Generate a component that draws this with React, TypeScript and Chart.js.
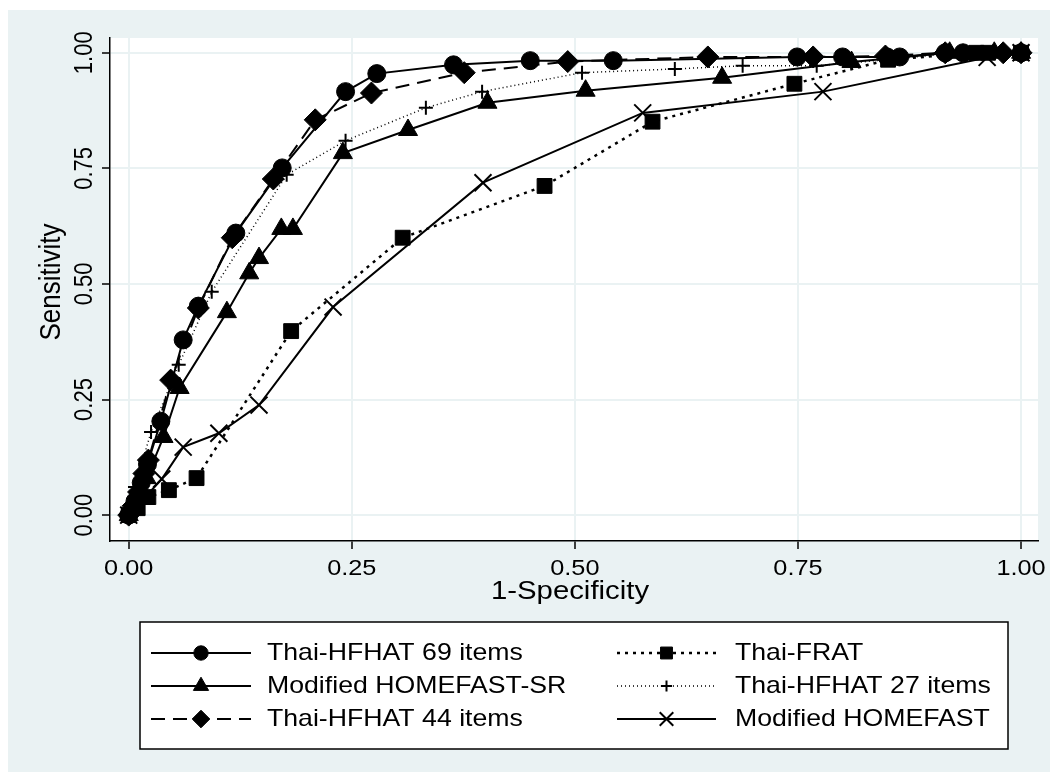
import { useEffect, useRef } from "react";
import { Chart, registerables } from "chart.js";
import { drawPoint } from "chart.js/helpers";

Chart.register(...registerables);

// ---------- data ----------
const xTicks = [0, 0.25, 0.5, 0.75, 1];
const yTicks = [0, 0.25, 0.5, 0.75, 1];

const hfhat69X = [0, 0.007, 0.014, 0.021, 0.036, 0.061, 0.078, 0.12, 0.172, 0.243, 0.278, 0.364, 0.45, 0.543, 0.749, 0.8, 0.85, 0.864, 0.915, 0.935, 1];
const hfhat69Y = [0, 0.03, 0.07, 0.11, 0.203, 0.379, 0.452, 0.61, 0.751, 0.916, 0.955, 0.974, 0.983, 0.983, 0.991, 0.991, 0.991, 0.991, 1, 1, 1];

const fratX = [0, 0.01, 0.022, 0.045, 0.076, 0.182, 0.307, 0.466, 0.587, 0.746, 0.851, 0.95, 0.963, 1];
const fratY = [0, 0.015, 0.039, 0.054, 0.08, 0.398, 0.6, 0.712, 0.851, 0.933, 0.985, 1, 1, 1];

const homefastSrX = [0, 0.006, 0.012, 0.02, 0.039, 0.057, 0.11, 0.135, 0.146, 0.171, 0.184, 0.24, 0.313, 0.402, 0.512, 0.665, 0.81, 0.92, 0.97, 1];
const homefastSrY = [0, 0.02, 0.045, 0.08, 0.169, 0.275, 0.439, 0.523, 0.556, 0.619, 0.619, 0.783, 0.833, 0.892, 0.918, 0.946, 0.98, 1, 1, 1];

const hfhat27X = [0, 0.007, 0.025, 0.056, 0.093, 0.177, 0.243, 0.333, 0.396, 0.508, 0.612, 0.688, 0.771, 0.85, 0.93, 1];
const hfhat27Y = [0, 0.061, 0.18, 0.325, 0.483, 0.736, 0.81, 0.881, 0.916, 0.957, 0.965, 0.972, 0.972, 0.985, 1, 1];

const hfhat44X = [0, 0.005, 0.011, 0.017, 0.022, 0.047, 0.078, 0.116, 0.162, 0.209, 0.272, 0.376, 0.492, 0.649, 0.767, 0.848, 0.915, 0.98, 1];
const hfhat44Y = [0, 0.02, 0.05, 0.09, 0.119, 0.292, 0.448, 0.6, 0.727, 0.855, 0.913, 0.957, 0.981, 0.991, 0.991, 0.993, 1, 1, 1];

const homefastX = [0, 0.037, 0.061, 0.101, 0.146, 0.229, 0.397, 0.576, 0.778, 0.962, 1];
const homefastY = [0, 0.078, 0.147, 0.177, 0.238, 0.45, 0.719, 0.87, 0.916, 0.99, 1];

const seriesNames = [
  "Thai-HFHAT 69 items",
  "Thai-FRAT",
  "Modified HOMEFAST-SR",
  "Thai-HFHAT 27 items",
  "Thai-HFHAT 44 items",
  "Modified HOMEFAST",
];

const xTitle = "1-Specificity";
const yTitle = "Sensitivity";

// ---------- styles ----------
const FONT = '"Liberation Sans", Arial, sans-serif';
const BG = "#EAF2F3";
const SX = 1.15; // horizontal stretch of all text

type Style = { pointStyle: string; radius: number; dash: number[]; width: number; pointBorder: number };
const styles: Style[] = [
  { pointStyle: "circle", radius: 9, dash: [], width: 2, pointBorder: 1 },
  { pointStyle: "rect", radius: 10.5, dash: [3, 5], width: 2.5, pointBorder: 1 },
  { pointStyle: "triangle", radius: 11, dash: [], width: 2, pointBorder: 1 },
  { pointStyle: "cross", radius: 7, dash: [1, 3], width: 1.5, pointBorder: 2 },
  { pointStyle: "rectRot", radius: 11, dash: [14, 8], width: 2, pointBorder: 1 },
  { pointStyle: "crossRot", radius: 12, dash: [], width: 2, pointBorder: 2 },
];

const seriesX = [hfhat69X, fratX, homefastSrX, hfhat27X, hfhat44X, homefastX];
const seriesY = [hfhat69Y, fratY, homefastSrY, hfhat27Y, hfhat44Y, homefastY];

function drawText(ctx: CanvasRenderingContext2D, text: string, x: number, y: number, size: number, align: CanvasTextAlign, rotate = false) {
  ctx.save();
  ctx.translate(x, y);
  ctx.scale(SX, 1);
  if (rotate) ctx.rotate(-Math.PI / 2);
  ctx.font = `${size}px ${FONT}`;
  ctx.fillStyle = "#000";
  ctx.textAlign = align;
  ctx.textBaseline = "middle";
  ctx.fillText(text, 0, 0);
  ctx.restore();
}

const bgPlugin = {
  id: "bgPlugin",
  beforeDraw(chart: any) {
    const { ctx, chartArea, width, height } = chart;
    ctx.save();
    ctx.fillStyle = BG;
    ctx.fillRect(0, 0, width, height);
    ctx.fillStyle = "#ffffff";
    ctx.fillRect(chartArea.left, chartArea.top, chartArea.right - chartArea.left, chartArea.bottom - chartArea.top);
    ctx.restore();
  },
};

const axisTextPlugin = {
  id: "axisText",
  afterDraw(chart: any) {
    const { ctx, chartArea } = chart;
    const xs = chart.scales.x;
    const ys = chart.scales.y;
    for (const v of yTicks) {
      drawText(ctx, v.toFixed(2), ys.right - 25, ys.getPixelForValue(v), 22, "center", true);
    }
    for (const v of xTicks) {
      drawText(ctx, v.toFixed(2), xs.getPixelForValue(v), chartArea.bottom + 28, 22, "center");
    }
    drawText(ctx, xTitle, (chartArea.left + chartArea.right) / 2 - 4, chartArea.bottom + 51, 25.5, "center");
    drawText(ctx, yTitle, 44, ys.getPixelForValue(0.5) - 2, 26, "center", true);
  },
};

const legendPlugin = {
  id: "customLegend",
  afterDraw(chart: any) {
    const { ctx } = chart;
    const box = { l: 132, t: 612, r: 1000, b: 739 };
    ctx.save();
    ctx.fillStyle = "#ffffff";
    ctx.fillRect(box.l, box.t, box.r - box.l, box.b - box.t);
    ctx.strokeStyle = "#000";
    ctx.lineWidth = 1.5;
    ctx.strokeRect(box.l, box.t, box.r - box.l, box.b - box.t);
    const rows = [643, 676, 709];
    const cols = [
      { x0: 143, x1: 243, text: 259 },
      { x0: 609, x1: 708, text: 727 },
    ];
    seriesNames.forEach((name, i) => {
      const st = styles[i];
      const row = rows[Math.floor(i / 2)];
      const col = cols[i % 2];
      ctx.save();
      ctx.strokeStyle = "#000";
      ctx.lineWidth = st.width;
      ctx.setLineDash(st.dash);
      ctx.beginPath();
      ctx.moveTo(col.x0, row);
      ctx.lineTo(col.x1, row);
      ctx.stroke();
      ctx.setLineDash([]);
      ctx.fillStyle = "#000";
      ctx.lineWidth = st.pointBorder;
      drawPoint(ctx, { pointStyle: st.pointStyle as any, radius: st.radius * 0.8, rotation: 0, borderWidth: st.pointBorder }, (col.x0 + col.x1) / 2, row);
      ctx.restore();
      drawText(ctx, name, col.text, row + 1, 23.2, "left");
    });
    ctx.restore();
  },
};

export default function App() {
  const ref = useRef<HTMLCanvasElement | null>(null);
  useEffect(() => {
    if (!ref.current) return;
    const datasets = seriesNames.map((name, i) => ({
      label: name,
      data: seriesX[i].map((x, j) => ({ x, y: seriesY[i][j] })),
      showLine: true,
      borderColor: "#000",
      backgroundColor: "#000",
      borderWidth: styles[i].width,
      borderDash: styles[i].dash,
      pointStyle: styles[i].pointStyle as any,
      pointRadius: styles[i].radius,
      pointBorderWidth: styles[i].pointBorder,
      pointBorderColor: "#000",
      pointBackgroundColor: "#000",
      tension: 0,
    }));
    const chart = new Chart(ref.current, {
      type: "scatter",
      data: { datasets },
      options: {
        responsive: false,
        animation: false,
        layout: { autoPadding: false, padding: { left: 31, top: 28, right: 12, bottom: 169 } },
        plugins: { legend: { display: false }, tooltip: { enabled: false } },
        scales: {
          x: {
            type: "linear",
            min: -0.021,
            max: 1.019,
            afterBuildTicks: (s: any) => {
              s.ticks = xTicks.map((v) => ({ value: v }));
            },
            afterFit: (s: any) => {
              s.height = 62;
              s.paddingLeft = 0;
              s.paddingRight = 0;
            },
            ticks: { display: false },
            grid: { color: BG, lineWidth: 2, tickColor: "#000", tickWidth: 1.5, tickLength: 8 },
            border: { display: true, color: "#000", width: 1.5 },
          },
          y: {
            type: "linear",
            min: -0.056,
            max: 1.032,
            afterBuildTicks: (s: any) => {
              s.ticks = yTicks.map((v) => ({ value: v }));
            },
            afterFit: (s: any) => {
              s.width = 71;
              s.paddingTop = 0;
              s.paddingBottom = 0;
            },
            ticks: { display: false },
            grid: { color: BG, lineWidth: 2, tickColor: "#000", tickWidth: 1.5, tickLength: 8 },
            border: { display: true, color: "#000", width: 1.5 },
          },
        },
      },
      plugins: [bgPlugin, axisTextPlugin, legendPlugin],
    });
    return () => chart.destroy();
  }, []);
  return (
    <div style={{ position: "absolute", left: 8, top: 10 }}>
      <canvas ref={ref} width={1042} height={762} style={{ display: "block" }} />
    </div>
  );
}
